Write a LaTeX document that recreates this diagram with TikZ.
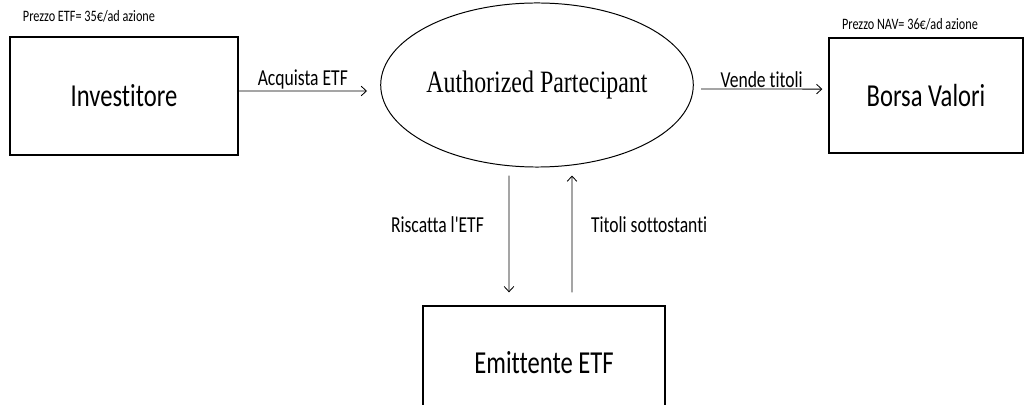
\documentclass[tikz,border=0pt]{standalone}
\usepackage{fontspec}
\setmainfont{Carlito}[Ligatures={NoCommon,TeXOff}]
\newfontfamily\apfont{Liberation Serif}
\usetikzlibrary{shapes.geometric, arrows.meta}

% text in the figure is a bit stretched upwards
\newcommand{\tall}[1]{\scalebox{1}[1.3]{#1}}

\tikzset{
  box/.style={draw, line width=0.9pt, minimum width=5.7cm, minimum height=2.95cm, font=\fontsize{17.5}{20}\selectfont},
  bubble/.style={draw, ellipse, line width=0.7pt, inner sep=0pt, minimum width=7.65cm, minimum height=4.1cm, font=\apfont\fontsize{17}{20}\selectfont},
  flow/.style={-{Straight Barb[length=1.3mm, width=2.4mm]}, line width=0.6pt},
  lbl/.style={font=\fontsize{12.5}{14}\selectfont},
  price/.style={font=\fontsize{8.7}{10}\selectfont}
}

\begin{document}
\begin{tikzpicture}
    [x=0.025cm, y=-0.025cm]

    \clip (0, 0) rectangle (1024, 405);
    \fill [white] (0, 0) rectangle (1024, 405);

    \node [price] at (89, 16) (pETF) {\tall{Prezzo ETF= 35€/ad azione}};
    \node [price] at (910, 24) (pNAV) {\tall{Prezzo NAV= 36€/ad azione}};

    \node [box] at (124, 96) (inv) {\tall{Investitore}};
    \node [bubble] at (537, 85) (ap) {\tall{Authorized Partecipant}};
    \node [box, minimum width=4.85cm, minimum height=2.875cm] at (926, 95.5) (borsa) {\tall{Borsa Valori}};
    \node [box, minimum width=6.05cm, minimum height=2.85cm] at (544, 363) (emit) {\tall{Emittente ETF}};

    \draw [flow] ([yshift=0.125cm]inv.east) -- ([xshift=-0.33cm, yshift=-0.15cm]ap.west)
        node [lbl, midway, above, inner sep=1pt] {\tall{Acquista ETF}};
    \draw [flow] ([xshift=0.18cm, yshift=-0.1cm]ap.east) -- ([xshift=-0.15cm, yshift=0.16cm]borsa.west)
        node [lbl, midway, above, inner sep=1pt] {\tall{Vende titoli}};

    \draw [flow] ([xshift=-0.7cm, yshift=-0.2cm]ap.south) -- ([xshift=-0.875cm, yshift=0.325cm]emit.north)
        node [lbl, pos=0.42, left=0.5cm] {\tall{Riscatta l'ETF}};
    \draw [flow] ([xshift=0.7cm, yshift=0.325cm]emit.north) -- ([xshift=0.875cm, yshift=-0.2cm]ap.south)
        node [lbl, pos=0.58, right=0.35cm] {\tall{Titoli sottostanti}};

  \end{tikzpicture}
\end{document}
